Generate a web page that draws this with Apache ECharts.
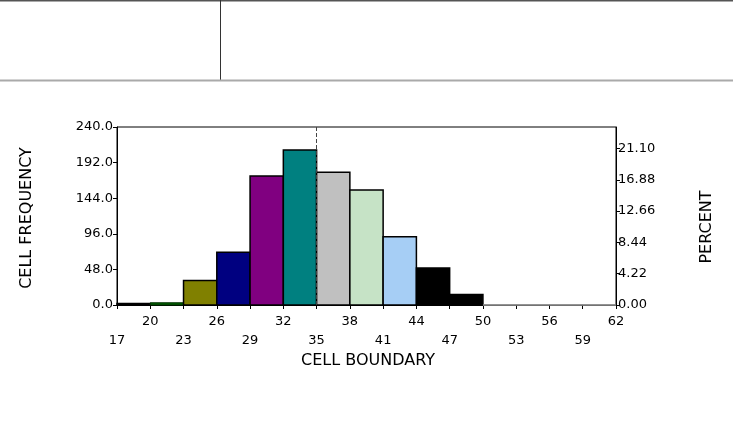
<!DOCTYPE html>
<html>
<head>
<meta charset="utf-8">
<script src="https://cdn.jsdelivr.net/npm/echarts@6/dist/echarts.min.js"></script>
<style>html,body{margin:0;padding:0;background:#fff;}#c{width:733px;height:430px;}</style>
</head>
<body>
<div id="c"></div>
<script>
// Cell boundaries (lower edge of each cell), cell width 3
const cellStarts = [17, 20, 23, 26, 29, 32, 35, 38, 41, 44, 47, 50, 53, 56, 59];
const cellWidth = 3;
const frequencies = [2, 3, 33, 71, 174, 209, 179, 155, 92, 50, 14, 0, 0, 0, 0];
const barColors = ['#000000', '#006000', '#808000', '#000080', '#800080', '#008080',
  '#c0c0c0', '#c6e3c6', '#a6cef5', '#000000', '#000000', '#000000', '#000000', '#000000', '#000000'];
const freqTicks = [0, 48, 96, 144, 192, 240];
const percentTicks = [0, 4.22, 8.44, 12.66, 16.88, 21.10];
const totalCount = 1000;
const markerBoundary = 35;

const font = 'DejaVu Sans';
const chart = echarts.init(document.getElementById('c'));
const data = cellStarts.map((s, i) => [s, s + cellWidth, frequencies[i], i]);

chart.setOption({
  animation: false,
  backgroundColor: '#ffffff',
  grid: { left: 117, right: 117, top: 127, bottom: 125, show: true, borderColor: '#000', borderWidth: 1, backgroundColor: 'transparent' },
  xAxis: {
    type: 'value', min: 17, max: 62, interval: 3,
    axisLine: { lineStyle: { color: '#000', width: 1 } },
    axisTick: { show: true, length: 4, lineStyle: { color: '#000' } },
    splitLine: { show: false },
    axisLabel: {
      color: '#000', fontFamily: font, fontSize: 13, margin: 7, lineHeight: 19,
      formatter: function (v) {
        const k = Math.round((v - 17) / 3);
        return (k % 2 === 1) ? (v + '\n ') : (' \n' + v);
      }
    }
  },
  yAxis: [{
    type: 'value', min: 0, max: 240, interval: 48, position: 'left',
    axisLine: { show: true, lineStyle: { color: '#000' } },
    axisTick: { show: true, length: 4, lineStyle: { color: '#000' } },
    splitLine: { show: false },
    axisLabel: { color: '#000', fontFamily: font, fontSize: 13, margin: 4, formatter: v => v.toFixed(1) }
  }, {
    type: 'value', min: 0, max: 240 / totalCount * 100, interval: 4.22, position: 'right',
    axisLine: { show: true, lineStyle: { color: '#000' } },
    axisTick: { show: true, length: 4, lineStyle: { color: '#000' } },
    splitLine: { show: false },
    axisLabel: { color: '#000', fontFamily: font, fontSize: 13, margin: 2, showMaxLabel: false,
      formatter: v => (v > 21.5 ? '' : v.toFixed(2)) }
  }],
  graphic: [
    { type: 'line', shape: { x1: 0, y1: 0.5, x2: 733, y2: 0.5 }, style: { stroke: '#555', lineWidth: 2 } },
    { type: 'line', shape: { x1: 220.5, y1: 0, x2: 220.5, y2: 80 }, style: { stroke: '#333', lineWidth: 1 } },
    { type: 'line', shape: { x1: 0, y1: 80.5, x2: 733, y2: 80.5 }, style: { stroke: '#aaa', lineWidth: 2 } },
    { type: 'text', x: 27, y: 218, rotation: Math.PI / 2,
      style: { text: 'CELL FREQUENCY', font: '16px "DejaVu Sans"', fill: '#000', align: 'center', verticalAlign: 'middle' } },
    { type: 'text', x: 707, y: 227, rotation: Math.PI / 2,
      style: { text: 'PERCENT', font: '16px "DejaVu Sans"', fill: '#000', align: 'center', verticalAlign: 'middle' } },
    { type: 'text', x: 368, y: 361,
      style: { text: 'CELL BOUNDARY', font: '16px "DejaVu Sans"', fill: '#000', align: 'center', verticalAlign: 'middle' } }
  ],
  series: [{
    type: 'custom',
    xAxisIndex: 0, yAxisIndex: 0,
    data: data,
    renderItem: function (params, api) {
      const a = api.coord([api.value(0), 0]);
      const b = api.coord([api.value(1), api.value(2)]);
      const i = api.value(3);
      const h = a[1] - b[1];
      const zero = frequencies[i] === 0;
      const stroke = zero ? '#999' : (i === 1 ? '#003000' : '#000');
      return {
        type: 'rect',
        shape: { x: a[0], y: b[1], width: b[0] - a[0], height: h },
        style: { fill: barColors[i], stroke: stroke, lineWidth: i === 1 ? 1 : 1.5 }
      };
    },
    markLine: {
      silent: true, symbol: 'none', label: { show: false },
      lineStyle: { color: '#444', type: 'dashed', width: 1 },
      data: [{ xAxis: markerBoundary }]
    }
  }]
});
</script>
</body>
</html>
